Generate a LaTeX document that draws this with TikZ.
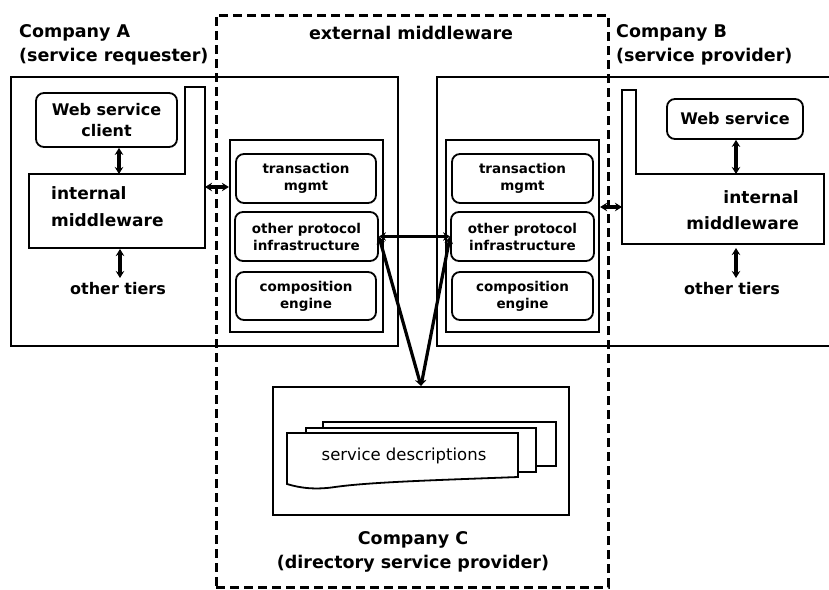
\documentclass[tikz,border=0pt]{standalone}
\usepackage{fontspec}
\setmainfont{DejaVu Sans}
\usetikzlibrary{arrows.meta}
\begin{document}
\begin{tikzpicture}[x=1pt,y=-1pt,
  box/.style={draw, line width=2.2pt, inner sep=0pt},
  rbox/.style={draw, line width=1.8pt, rounded corners=8pt, inner sep=0pt, align=center, font=\bfseries\fontsize{13.5}{17}\selectfont},
  big/.style={align=left, inner sep=0pt, font=\bfseries\fontsize{17.5}{24}\selectfont},
  mid/.style={inner sep=0pt, font=\bfseries\fontsize{17}{26.5}\selectfont},
  small/.style={inner sep=0pt, font=\bfseries\fontsize{16}{19}\selectfont},
  arr/.style={line width=3.2pt, {Stealth[length=7pt,width=8.5pt]}-{Stealth[length=7pt,width=8.5pt]}},
  dashbox/.style={draw, line width=3pt, dash pattern=on 9pt off 5pt, inner sep=0pt},
  doc/.style={draw, line width=1.8pt, fill=white}
]
\useasboundingbox (0,0) rectangle (829,589);

% company boxes
\node[box, minimum width=387pt, minimum height=269pt] (compA) at (204.5,211.5) {};
\node[box, minimum width=403pt, minimum height=269pt] (compB) at (638.5,211.5) {};

% external middleware dashed box
\node[dashbox, minimum width=392pt, minimum height=572pt] (ext) at (412,301) {};

% labels
\node[big, anchor=west] (labA) at (19,45) {Company A\\(service requester)};
\node[big, anchor=west] (labB) at (616,45) {Company B\\(service provider)};
\node[big] (labExt) at (411,33) {external middleware};

% Company A internal
\draw[line width=2.2pt] (29,174) -- (29,248) -- (205,248) -- (205,87) -- (185,87) -- (185,174) -- cycle;
\coordinate (mwAtop) at (119,174);
\coordinate (mwAbot) at (120,249);
\coordinate (mwAright) at (205,187);
\node[rbox, font=\bfseries\fontsize{16}{21}\selectfont, minimum width=141pt, minimum height=54pt] (client) at (106.5,120) {Web service\\client};
\node[mid, align=left, anchor=west] (imA) at (51,206.5) {internal\\middleware};
\node[small] (otA) at (118,289) {other tiers};

% Company B internal
\draw[line width=2.2pt] (622,90) -- (636,90) -- (636,174) -- (824,174) -- (824,244) -- (622,244) -- cycle;
\coordinate (mwBtop) at (736,174);
\coordinate (mwBbot) at (736,248);
\coordinate (mwBleft) at (622,207);
\node[rbox, font=\bfseries\fontsize{16}{21}\selectfont, minimum width=136pt, minimum height=40pt] (ws) at (735,119) {Web service};
\node[mid, align=right, anchor=east] (imB) at (799,210) {internal\\middleware};
\node[small] (otB) at (732,289) {other tiers};

% external middleware components, side A
\node[box, minimum width=153pt, minimum height=192pt] (extA) at (306.5,236) {};
\node[rbox, minimum width=140pt, minimum height=49pt] (trA) at (306,178.5) {transaction\\mgmt};
\node[rbox, minimum width=143pt, minimum height=49pt] (opA) at (306.5,236.5) {other protocol\\infrastructure};
\node[rbox, minimum width=140pt, minimum height=48pt] (coA) at (306,296) {composition\\engine};

% side B
\node[box, minimum width=153pt, minimum height=192pt] (extB) at (522.5,236) {};
\node[rbox, minimum width=141pt, minimum height=49pt] (trB) at (522.5,178.5) {transaction\\mgmt};
\node[rbox, minimum width=143pt, minimum height=49pt] (opB) at (522.5,236.5) {other protocol\\infrastructure};
\node[rbox, minimum width=141pt, minimum height=48pt] (coB) at (522.5,296) {composition\\engine};

% Company C
\node[box, minimum width=296pt, minimum height=128pt] (compC) at (421,451) {};
\draw[doc] (323,422) rectangle (556,466);
\draw[doc] (306,428) rectangle (536,472);
\draw[doc] (287,433) -- (518,433) -- (518,477) .. controls (440,480) and (370,482) .. (335,487) .. controls (315,490) and (300,488) .. (287,484) -- cycle;
\node[inner sep=0pt, font=\fontsize{16.5}{19}\selectfont] (sd) at (404,456) {service descriptions};
\node[big, align=center] (labC) at (413,552) {Company C\\(directory service provider)};

% connectors
\draw[arr] (mwAtop |- client.south) -- (mwAtop);
\draw[arr] (mwAbot) -- (mwAbot |- 0,278);
\draw[arr] (mwAright) -- (extA.west |- mwAright);
\draw[arr] (mwBtop |- ws.south) -- (mwBtop);
\draw[arr] (mwBbot) -- (mwBbot |- 0,278);
\draw[arr] (extB.east |- mwBleft) -- (mwBleft);
\draw[arr] (opA.east) -- (opB.west);
\draw[arr] (opA.east) -- (compC.north);
\draw[arr] (opB.west) -- (compC.north);
\end{tikzpicture}
\end{document}
